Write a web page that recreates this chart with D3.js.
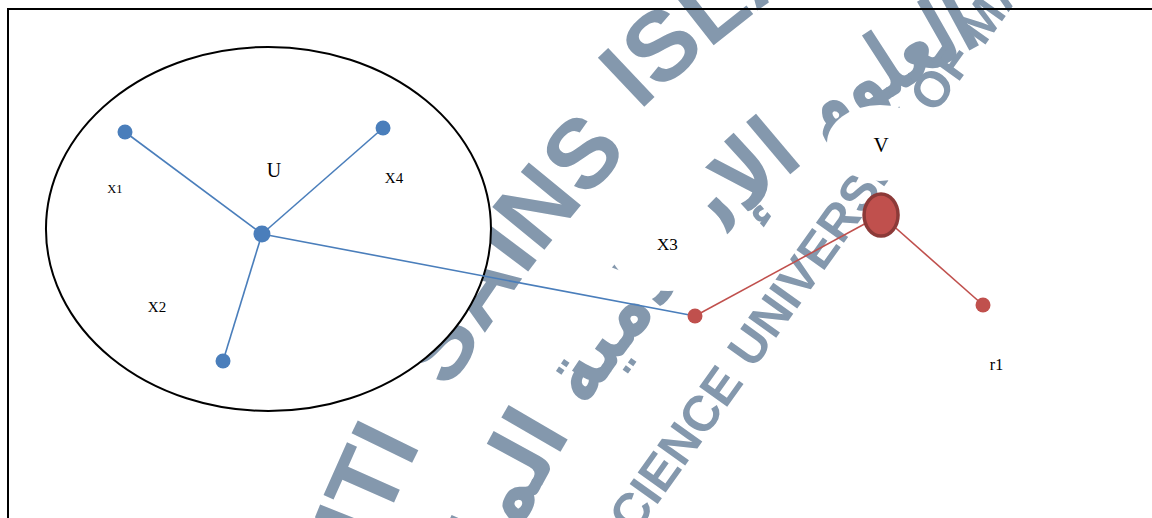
<!DOCTYPE html>
<html>
<head>
<meta charset="utf-8">
<script src="https://cdn.jsdelivr.net/npm/d3@7"></script>
<style>
  body { margin: 0; background: #fff; }
  svg { display: block; }
</style>
</head>
<body>
<div id="chart"></div>
<script>
// Diagram data, in a 0-100 grid on both axes
const nodeIds    = ["u", "x1", "x4", "x2", "x3", "v", "r1"]
const nodeGroup  = ["U", "U", "U", "U", "V", "V", "V"]
const nodeKind   = ["hub", "leaf", "leaf", "leaf", "leaf", "root", "leaf"]
const nodeX      = [22.74, 10.85, 33.25, 19.36, 60.33, 76.48, 85.33]
const nodeY      = [45.17, 25.48, 24.71, 69.69, 61.00, 41.51, 58.88]

const edgeSource = ["u", "u", "u", "u", "x3", "v"]
const edgeTarget = ["x1", "x4", "x2", "x3", "v", "r1"]

const labelText  = ["X1", "U", "X4", "X2", "X3", "V", "r1"]
const labelX     = [9.98, 23.78, 34.20, 13.63, 57.94, 76.48, 86.50]
const labelY     = [37.26, 34.17, 35.33, 60.23, 48.26, 29.34, 71.43]
const labelSize  = [12.5, 20, 15, 15, 17, 21, 16]

// set U boundary (left, right, top, bottom)
const setBounds  = [3.99, 42.62, 9.07, 79.34]

const WIDTH = 1152
const HEIGHT = 518
const colors = { U: "#4a7ebb", V: "#c0504d" }

const svg = d3.select("#chart")
    .append("svg")
    .attr("width", WIDTH)
    .attr("height", HEIGHT)

const x = d3.scaleLinear().domain([0, 100]).range([0, WIDTH])
const y = d3.scaleLinear().domain([0, 100]).range([0, HEIGHT])

// ---- watermark (university seal, only partly on the page) ----
const defs = svg.append("defs")
const WM = "#8498ad"
const sealC = [1476, 976]

function circlePath(cx, cy, r) {
    // clockwise full circle starting at the bottom
    return `M${cx},${cy + r} A${r},${r} 0 1 1 ${cx},${cy - r} A${r},${r} 0 1 1 ${cx},${cy + r}`
}
function offsetAt(deg, r) {
    return (((deg - 90) % 360 + 360) % 360) * Math.PI / 180 * r
}

const arabR = 1055
defs.append("path").attr("id", "wmArab").attr("d", circlePath(sealC[0], sealC[1], arabR))
// inner English ring looks almost straight here
const ang = -54.5 * Math.PI / 180
const bx = 821, by = 275
defs.append("path").attr("id", "wmInner")
    .attr("d", `M${bx - 600 * Math.cos(ang)},${by - 600 * Math.sin(ang)} L${bx + 600 * Math.cos(ang)},${by + 600 * Math.sin(ang)}`)

const wm = svg.append("g").attr("fill", WM)

// word, angle, ring radius
const outerWords = [["UNIVERSITI", -166.6, 1181], ["SAINS", -143.05, 1181], ["ISLAM", -126.8, 1203], ["MALAYSIA", -106.5, 1203]]
outerWords.forEach(([w, a, r], i) => {
    defs.append("path").attr("id", "wmOuter" + i).attr("d", circlePath(sealC[0], sealC[1], r))
    wm.append("text")
        .style("font-family", "'Liberation Sans', Arial, sans-serif")
        .style("font-weight", "bold")
        .style("font-size", "98px")
        .append("textPath")
        .attr("href", "#wmOuter" + i)
        .attr("startOffset", offsetAt(a, r))
        .attr("text-anchor", "middle")
        .text(w)
})

const arabWords = [["الماليزية", -158.3, 340], ["الإسلامية", -138.5, 331], ["العلوم", -123, 190], ["جامعة", -104, 180]]
arabWords.forEach(([w, a, len]) => {
    wm.append("text")
        .style("font-family", "'DejaVu Sans', sans-serif")
        .style("font-weight", "bold")
        .style("font-size", "90px")
        .append("textPath")
        .attr("href", "#wmArab")
        .attr("startOffset", offsetAt(a, arabR))
        .attr("text-anchor", "middle")
        .attr("textLength", len)
        .attr("lengthAdjust", "spacingAndGlyphs")
        .text(w)
})

const innerStart = 600 - 98.7 - 0.36 * 50
wm.append("text")
    .style("font-family", "'Liberation Sans', Arial, sans-serif")
    .style("font-weight", "bold")
    .style("font-size", "50px")
    .append("textPath")
    .attr("href", "#wmInner")
    .attr("startOffset", innerStart)
    .text("UNIVERSITY OF MALAYSIA")
wm.append("text")
    .style("font-family", "'Liberation Sans', Arial, sans-serif")
    .style("font-weight", "bold")
    .style("font-size", "50px")
    .append("textPath")
    .attr("href", "#wmInner")
    .attr("startOffset", innerStart - 15)
    .attr("text-anchor", "end")
    .text("ISLAMIC SCIENCE")

// white label boxes that hide the watermark
svg.append("ellipse").attr("cx", 668).attr("cy", 243).attr("rx", 60).attr("ry", 48).attr("fill", "#fff")
svg.append("ellipse").attr("cx", 880).attr("cy", 143).attr("rx", 53).attr("ry", 38).attr("fill", "#fff")

// frame
svg.append("rect")
    .attr("x", 8).attr("y", 9)
    .attr("width", 1200).attr("height", 600)
    .attr("fill", "none")
    .attr("stroke", "#000")
    .attr("stroke-width", 2)

// set U
svg.append("ellipse")
    .attr("cx", (x(setBounds[0]) + x(setBounds[1])) / 2)
    .attr("cy", (y(setBounds[2]) + y(setBounds[3])) / 2)
    .attr("rx", (x(setBounds[1]) - x(setBounds[0])) / 2)
    .attr("ry", (y(setBounds[3]) - y(setBounds[2])) / 2)
    .attr("fill", "#fff")
    .attr("stroke", "#000")
    .attr("stroke-width", 2)

// edges
const idx = id => nodeIds.indexOf(id)
svg.append("g")
    .selectAll("line")
    .data(edgeSource.map((s, i) => [idx(s), idx(edgeTarget[i])]))
    .enter()
    .append("line")
    .attr("x1", d => x(nodeX[d[0]]))
    .attr("y1", d => y(nodeY[d[0]]))
    .attr("x2", d => x(nodeX[d[1]]))
    .attr("y2", d => y(nodeY[d[1]]))
    .attr("stroke", d => colors[nodeGroup[d[0]]])
    .attr("stroke-width", 1.6)

// nodes
svg.append("g")
    .selectAll("ellipse")
    .data(nodeIds.map((id, i) => i))
    .enter()
    .append("ellipse")
    .attr("cx", i => x(nodeX[i]))
    .attr("cy", i => y(nodeY[i]))
    .attr("rx", i => nodeKind[i] === "root" ? 17 : nodeKind[i] === "hub" ? 8.5 : 7.5)
    .attr("ry", i => nodeKind[i] === "root" ? 21 : nodeKind[i] === "hub" ? 8.5 : 7.5)
    .attr("fill", i => colors[nodeGroup[i]])
    .attr("stroke", i => nodeKind[i] === "root" ? "#8c3a38" : "none")
    .attr("stroke-width", 3.5)

// labels
svg.append("g")
    .selectAll("text")
    .data(labelText)
    .enter()
    .append("text")
    .attr("x", (d, i) => x(labelX[i]))
    .attr("y", (d, i) => y(labelY[i]))
    .attr("text-anchor", "middle")
    .style("font-family", "'Liberation Serif', 'Times New Roman', serif")
    .style("font-size", (d, i) => labelSize[i] + "px")
    .attr("fill", "#000")
    .text(d => d)
</script>
</body>
</html>
